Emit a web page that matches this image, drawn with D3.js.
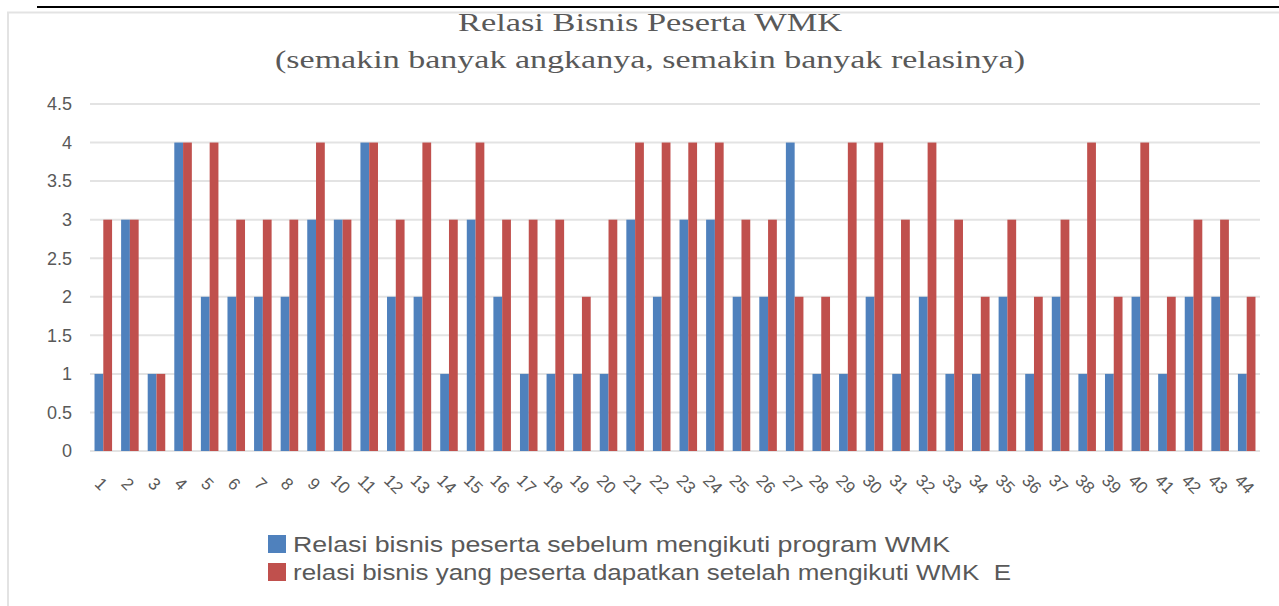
<!DOCTYPE html>
<html>
<head>
<meta charset="utf-8">
<script src="https://cdn.jsdelivr.net/npm/d3@7"></script>
<style>
body{margin:0;background:#fff;}
svg{display:block;}
</style>
</head>
<body>
<div class="graph"></div>
<script>
// data
var categories = d3.range(1, 45).map(String);
var sebelum = [1,3,1,4,2,2,2,2,3,3,4,2,2,1,3,2,1,1,1,1,3,2,3,3,2,2,4,1,1,2,1,2,1,1,2,1,2,1,1,2,1,2,2,1];
var setelah = [3,3,1,4,4,3,3,3,4,3,4,3,4,3,4,3,3,3,2,3,4,4,4,4,3,3,2,2,4,4,3,4,3,2,3,2,3,4,2,4,2,3,3,2];
var yTicks = [0,0.5,1,1.5,2,2.5,3,3.5,4,4.5];
var seriesNames = ["Relasi bisnis peserta sebelum mengikuti program WMK",
                   "relasi bisnis yang peserta dapatkan setelah mengikuti WMK  E"];
var titleLines = ["Relasi Bisnis Peserta WMK", "(semakin banyak angkanya, semakin banyak relasinya)"];

var width = 1279, height = 606;
var colours = ["#4f81bd", "#c0504d"];
var plot = {left: 90, right: 1260, top: 104, bottom: 451};

var svg = d3.select(".graph").append("svg").attr("width", width).attr("height", height);

// frame
svg.append("path").attr("d", "M8,606 V12.5 H1279").attr("fill", "none").attr("stroke", "#e3e3e3").attr("stroke-width", 2);
svg.append("line").attr("x1", 37).attr("x2", 1279).attr("y1", 7).attr("y2", 7).attr("stroke", "#000").attr("stroke-width", 2);

var x = d3.scaleBand().domain(categories).range([plot.left, plot.right]).paddingInner(0.34).paddingOuter(0.17);
var x1 = d3.scaleBand().domain([0, 1]).range([0, x.bandwidth()]);
var y = d3.scaleLinear().domain([0, 4.5]).range([plot.bottom, plot.top]);

// gridlines
svg.append("g").selectAll("line").data(yTicks).enter().append("line")
  .attr("x1", plot.left).attr("x2", plot.right)
  .attr("y1", function (d) { return y(d); }).attr("y2", function (d) { return y(d); })
  .attr("stroke", "#e3e3e3").attr("stroke-width", 2);

// y labels
svg.append("g").selectAll("text").data(yTicks).enter().append("text")
  .attr("x", 72).attr("y", function (d) { return y(d); }).attr("dy", "0.35em")
  .attr("text-anchor", "end").attr("fill", "#595959")
  .style("font", "18px 'Liberation Sans', sans-serif")
  .text(function (d) { return d; });

// bars
[sebelum, setelah].forEach(function (vals, s) {
  svg.append("g").selectAll("rect").data(vals).enter().append("rect")
    .attr("x", function (d, i) { return x(categories[i]) + x1(s); })
    .attr("y", function (d) { return y(d); })
    .attr("width", x1.bandwidth())
    .attr("height", function (d) { return y(0) - y(d); })
    .style("fill", colours[s]);
});

// x labels, rotated
svg.append("g").selectAll("text").data(categories).enter().append("text")
  .attr("transform", function (d) { return "translate(" + (x(d) + x.bandwidth() / 2 - 2) + ",484) rotate(45)"; })
  .attr("text-anchor", "middle").attr("dy", "0.35em").attr("fill", "#595959")
  .style("font", "17px 'Liberation Sans', sans-serif")
  .text(function (d) { return d; });

// title
svg.append("text").attr("x", 650).attr("y", 31).attr("text-anchor", "middle")
  .attr("fill", "#595959").style("font", "26px 'Liberation Serif', serif")
  .attr("textLength", 384).attr("lengthAdjust", "spacingAndGlyphs")
  .text(titleLines[0]);
svg.append("text").attr("x", 650).attr("y", 68).attr("text-anchor", "middle")
  .attr("fill", "#595959").style("font", "26px 'Liberation Serif', serif")
  .attr("textLength", 750).attr("lengthAdjust", "spacingAndGlyphs")
  .text(titleLines[1]);

// legend
var legendLen = [657, 718];
seriesNames.forEach(function (name, s) {
  var ly = 535 + s * 28;
  svg.append("rect").attr("x", 268).attr("y", ly).attr("width", 18).attr("height", 18).style("fill", colours[s]);
  svg.append("text").attr("x", 293).attr("y", ly + 9).attr("dy", "0.35em")
    .attr("fill", "#595959").style("font", "22px 'Liberation Sans', sans-serif").style("white-space", "pre")
    .attr("textLength", legendLen[s]).attr("lengthAdjust", "spacingAndGlyphs")
    .text(name);
});
</script>
</body>
</html>
